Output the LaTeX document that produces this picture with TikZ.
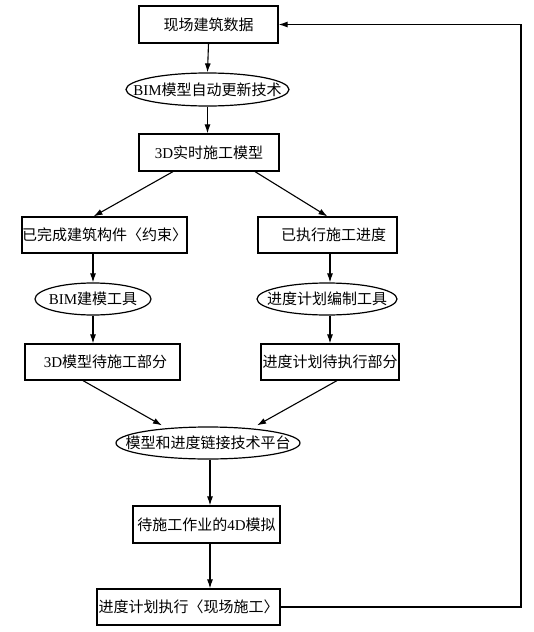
\documentclass[tikz,border=0pt]{standalone}
\usepackage{fontspec}
\setmainfont{Noto Sans CJK SC}
\newfontfamily\latfont{Liberation Serif}
\newcommand\lt[1]{{\latfont #1}}
\newcommand\zw[1]{\makebox[0pt]{#1}}
\usetikzlibrary{shapes.geometric,arrows.meta}
\begin{document}
\begin{tikzpicture}[x=1pt,y=-1pt,
  every node/.style={font=\fontsize{15}{17}\selectfont, inner sep=0pt},
  box/.style={draw, line width=1.2pt, rectangle},
  oval/.style={draw, line width=1.2pt, ellipse},
  arr/.style={line width=1.1pt, -{Latex[length=9pt,width=6pt]}},
  ln/.style={line width=1.1pt}]
\useasboundingbox (0,0) rectangle (533,632);
\node[box, minimum width=139pt, minimum height=37pt] (n1) at (208.5,24.5) {现场建筑数据};
\node[oval, minimum width=163pt, minimum height=33pt] (e1) at (207.5,89.5) {\zw{\lt{BIM}模型自动更新技术}};
\node[box, minimum width=140pt, minimum height=37pt] (n2) at (209,152.5) {\lt{3D}实时施工模型};
\node[box, minimum width=159pt, minimum height=36pt] (n3) at (104.5,235) {已完成建筑构件〈约束〉};
\node[box, minimum width=139pt, minimum height=36pt] (n4) at (327.5,235) {\hspace{12pt}已执行施工进度};
\node[oval, minimum width=116pt, minimum height=32pt] (e2) at (93,299) {\zw{\lt{BIM}建模工具}};
\node[oval, minimum width=140pt, minimum height=32pt] (e3) at (327,299) {\zw{进度计划编制工具}};
\node[box, minimum width=155pt, minimum height=36pt] (n5) at (102.5,362) {\hspace{6pt}\lt{3D}模型待施工部分};
\node[box, minimum width=138pt, minimum height=36pt] (n6) at (330,362) {进度计划待执行部分};
\node[oval, minimum width=184pt, minimum height=32pt] (e4) at (208,443) {\zw{模型和进度链接技术平台}};
\node[box, minimum width=147pt, minimum height=37pt] (n7) at (206.5,524.5) {待施工作业的\lt{4D}模拟};
\node[box, minimum width=183pt, minimum height=36pt] (n8) at (188.5,607) {进度计划执行〈现场施工〉};
\coordinate (fb) at (521,607);
% vertical arrows
\draw[arr] (n1.south) -- (e1.north);
\draw[arr] (e1.south) -- (e1.south |- n2.north);
\draw[arr] (e2.north |- n3.south) -- (e2.north);
\draw[arr] (e2.south) -- (e2.south |- n5.north);
\draw[arr] ([xshift=2.5pt]n4.south) -- ([xshift=3pt]e3.north);
\draw[arr] ([xshift=3pt]e3.south) -- (n6.north);
\draw[arr] ([xshift=2pt]e4.south) -- ([xshift=2pt]e4.south |- n7.north);
\draw[arr] ([xshift=3.5pt]n7.south) -- ([xshift=3.5pt]n7.south |- n8.north);
% diagonal arrows
\draw[arr] ([xshift=-36pt]n2.south) -- ([xshift=-11pt]n3.north);
\draw[arr] ([xshift=46pt]n2.south) -- (n4.north);
\draw[arr] ([xshift=-19.5pt]n5.south) -- ([xshift=-46pt,yshift=1pt]e4.north);
\draw[arr] ([xshift=7pt]n6.south) -- ([xshift=49pt,yshift=1pt]e4.north);
% feedback
\draw[arr] (n8.east) -- (fb) |- (n1.east);
\end{tikzpicture}
\end{document}
